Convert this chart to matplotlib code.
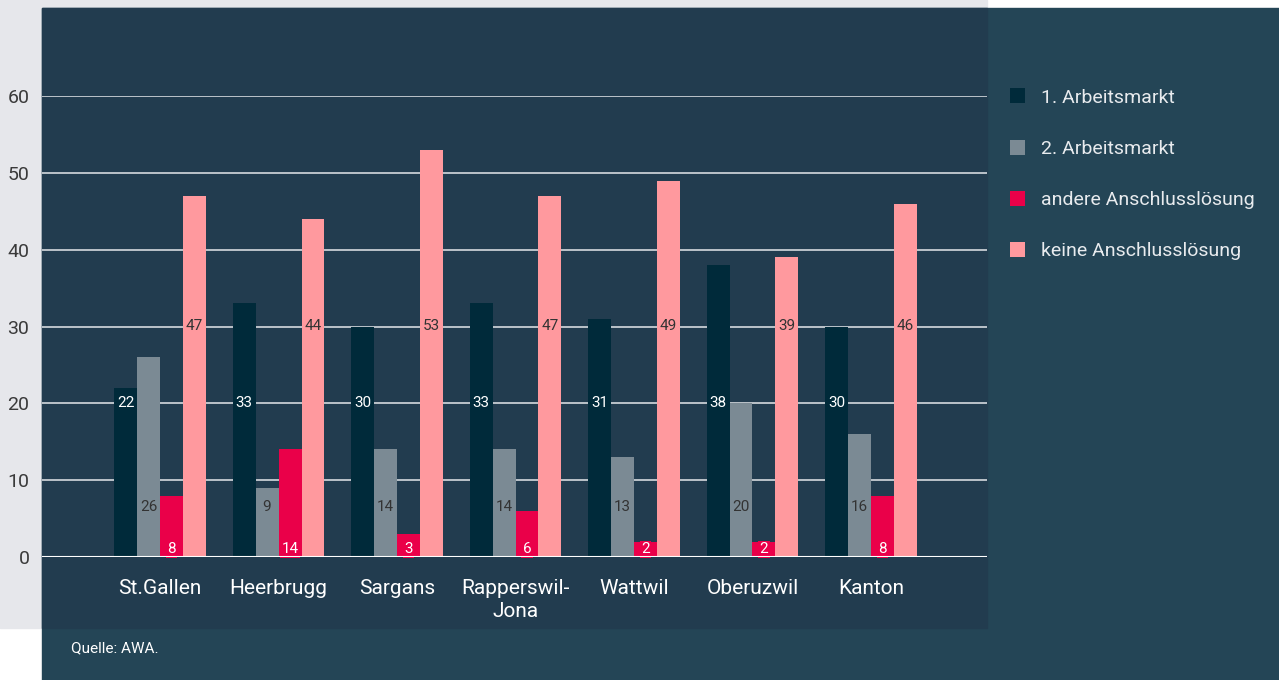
import matplotlib.pyplot as plt
import numpy as np
from matplotlib.patches import Rectangle

plt.rcParams['font.family'] = ['Roboto', 'DejaVu Sans']

orte = ['St.Gallen', 'Heerbrugg', 'Sargans', 'Rapperswil-\nJona', 'Wattwil', 'Oberuzwil', 'Kanton']
serien = ['1. Arbeitsmarkt', '2. Arbeitsmarkt', 'andere Anschlusslösung', 'keine Anschlusslösung']
erster = [22, 33, 30, 33, 31, 38, 30]
zweiter = [26, 9, 14, 14, 13, 20, 16]
andere = [8, 14, 3, 6, 2, 2, 8]
keine = [47, 44, 53, 47, 49, 39, 46]
werte = [erster, zweiter, andere, keine]

farben = ['#002a3a', '#7b8a94', '#ea0049', '#ff999e']
textfarben = ['white', '#333333', 'white', '#333333']
label_y = [20, 6.5, 1.0, 30]  # feste Hoehe der Beschriftung je Serie

W, H = 1279, 680
fig = plt.figure(figsize=(W / 100, H / 100), dpi=100)
fig.patch.set_facecolor('white')

# hintergrund
def rect(x0, y0, x1, y1, c):
    fig.patches.append(Rectangle((x0 / W, 1 - y1 / H), (x1 - x0) / W, (y1 - y0) / H,
                                 transform=fig.transFigure, color=c, zorder=-10))

rect(0, 0, 987, 628, '#e6e7eb')
rect(42, 8, 1279, 680, '#244556')
rect(42, 8, 987, 628, '#223c4f')

ax = fig.add_axes([42 / W, (H - 557) / H, 945 / W, (557 - 96) / H])
ax.set_facecolor('none')
for s in ax.spines.values():
    s.set_visible(False)

x = np.arange(len(orte))
bw = 0.194
for k, (vals, c) in enumerate(zip(werte, farben)):
    pos = x + (k - 1.5) * bw
    ax.bar(pos, vals, width=bw, color=c, label=serien[k], zorder=3)
    for p, v in zip(pos, vals):
        ax.text(p, label_y[k], str(v), ha='center', va='center', fontsize=11,
                color=textfarben[k], zorder=4,
                bbox=dict(facecolor=c, edgecolor='none', pad=1))

ax.set_xlim(-0.996, 6.979)
ax.set_ylim(0, 60)
ax.set_yticks(range(0, 61, 10))
ax.yaxis.grid(True, color='#d5dadf', linewidth=1.2, zorder=0)
ax.axhline(0, color='white', linewidth=1.5, zorder=5)
ax.tick_params(axis='y', length=0, pad=9, labelsize=14, labelcolor='#3a3a3a')
ax.set_xticks(x)
ax.set_xticklabels(orte, linespacing=1.25)
ax.tick_params(axis='x', length=0, pad=16, labelsize=15, labelcolor='white')

fig.legend(loc='upper left', bbox_to_anchor=(992 / W, 1 - 71 / H), frameon=False,
           handlelength=0.8, handleheight=0.8, handletextpad=0.8,
           labelspacing=1.7, fontsize=14, labelcolor='#e8ebee')

fig.text(71 / W, 1 - 648 / H, 'Quelle: AWA.', fontsize=11, color='white', va='center')

fig.savefig('out.png', dpi=100)
